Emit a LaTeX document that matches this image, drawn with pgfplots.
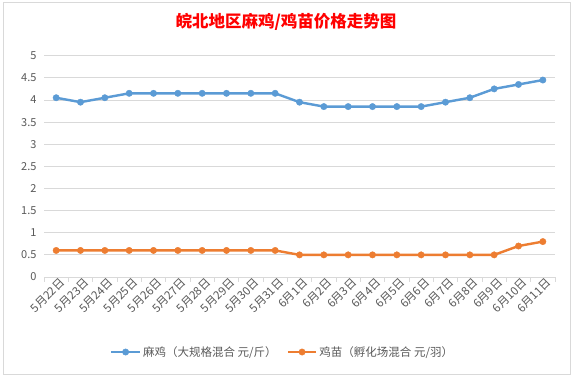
\documentclass[border=0pt]{standalone}
\usepackage{fontspec}
\setmainfont{Noto Sans CJK SC}
\usepackage{pgfplots}
\pgfplotsset{compat=1.18}
\definecolor{sblue}{HTML}{5B9BD5}
\definecolor{sorange}{HTML}{ED7D31}
\definecolor{gridgray}{HTML}{D9D9D9}
\definecolor{labgray}{HTML}{595959}
\begin{document}
\begin{tikzpicture}
\useasboundingbox (0,0) rectangle (572pt,377pt);
\fill[white] (0,0) rectangle (572pt,377pt);
\draw[gridgray, line width=0.8pt] (3pt,3pt) rectangle (570pt,375pt);
\node[font=\bfseries\fontsize{16.5}{18}\selectfont, text=red] at (286pt,355pt) {皖北地区麻鸡/鸡苗价格走势图};
\begin{axis}[
  at={(44pt,100pt)}, anchor=south west,
  scale only axis, width=511pt, height=221.3pt,
  xmin=-0.5, xmax=20.5, ymin=0, ymax=5,
  ytick={0,0.5,...,5},
  xtick={0,...,20},
  xticklabels={5月22日,5月23日,5月24日,5月25日,5月26日,5月27日,5月28日,5月29日,5月30日,5月31日,6月1日,6月2日,6月3日,6月4日,6月5日,6月6日,6月7日,6月8日,6月9日,6月10日,6月11日},
  minor xtick={-0.5,0.5,...,20.5},
  major tick length=0pt, minor tick length=5pt,
  tick align=outside, xtick pos=bottom, ytick pos=left,
  tick style={gridgray, line width=0.8pt},
  axis line style={-},
  axis x line*=bottom, axis y line*=left,
  x axis line style={gridgray, line width=0.8pt},
  y axis line style={draw=none},
  ymajorgrids, grid style={gridgray, line width=0.8pt},
  /pgf/number format/assume math mode=true,
  yticklabel style={font=\fontsize{11}{12}\selectfont, text=labgray, xshift=-4pt},
  xticklabel style={font=\fontsize{11.5}{12}\selectfont, text=labgray, rotate=45, anchor=north east, xshift=3pt, yshift=-1pt, inner sep=1pt},
  legend style={at={(rel axis cs:0.467,-0.339)}, anchor=center, draw=none, fill=none,
    font=\fontsize{11.5}{13}\selectfont, text=labgray,
    /tikz/every even column/.append style={column sep=8pt}},
  legend columns=2,
  legend image code/.code={\draw[mark repeat=2,mark phase=2] plot coordinates {(0cm,0cm)(0.5cm,0cm)(1cm,0cm)};},
]
\addplot[sblue, line width=2.4pt, mark=*, mark size=3.2pt, mark options={solid, fill=sblue, line width=0.4pt}] coordinates {
(0,4.05)(1,3.95)(2,4.05)(3,4.15)(4,4.15)(5,4.15)(6,4.15)(7,4.15)(8,4.15)(9,4.15)
(10,3.95)(11,3.85)(12,3.85)(13,3.85)(14,3.85)(15,3.85)(16,3.95)(17,4.05)(18,4.25)(19,4.35)(20,4.45)};
\addlegendentry{麻鸡（大规格混合 元/斤）}
\addplot[sorange, line width=2.4pt, mark=*, mark size=3.2pt, mark options={solid, fill=sorange, line width=0.4pt}] coordinates {
(0,0.6)(1,0.6)(2,0.6)(3,0.6)(4,0.6)(5,0.6)(6,0.6)(7,0.6)(8,0.6)(9,0.6)
(10,0.5)(11,0.5)(12,0.5)(13,0.5)(14,0.5)(15,0.5)(16,0.5)(17,0.5)(18,0.5)(19,0.7)(20,0.8)};
\addlegendentry{鸡苗（孵化场混合 元/羽）}
\end{axis}
\end{tikzpicture}
\end{document}
